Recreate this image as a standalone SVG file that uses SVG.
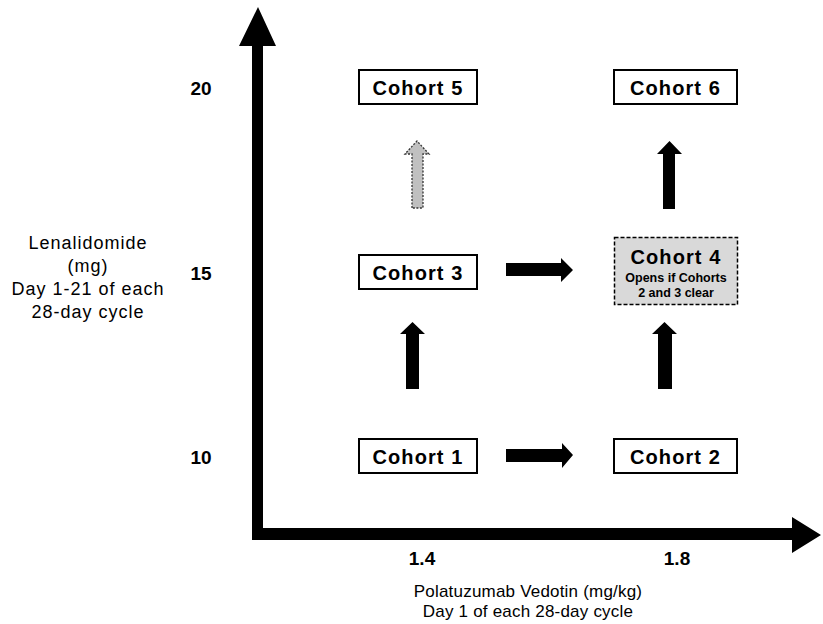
<svg xmlns="http://www.w3.org/2000/svg" width="823" height="624" viewBox="0 0 823 624">
<style>
text{font-family:"Liberation Sans",Arial,sans-serif;fill:#000}
.box{fill:#fff;stroke:#000;stroke-width:2}
.lbl{font-size:20px;font-weight:bold;text-anchor:middle;letter-spacing:1.1px}
.tick{font-size:19px;font-weight:bold;text-anchor:middle}
.title{font-size:17px;text-anchor:middle;letter-spacing:0.2px}
.ytitle{font-size:18px;text-anchor:middle;letter-spacing:1px}
.sub{font-size:12.5px;font-weight:bold;text-anchor:middle}
.arr{fill:#000}
</style>
<rect width="823" height="624" fill="#fff"/>
<g id="axes">
<polygon class="arr" points="252,46 239,46 258,7 276,46 263,46 263,528 792,528 792,517 821,535 792,553 792,540 252,540"/>
</g>
<g id="connectors">
<polygon class="arr" points="506,263 561,263 561,258 573,270 561,282 561,276 506,276"/>
<polygon class="arr" points="506,449 562,449 562,443 573,455 562,468 562,462 506,462"/>
<polygon class="arr" points="406,389 406,334 400,334 412.5,322 425,334 419,334 419,389"/>
<polygon class="arr" points="658,389 658,334 652,334 664.5,322 677,334 672,334 672,389"/>
<polygon class="arr" points="663,209 663,154 657,154 669.5,141 682,154 675,154 675,209"/>
<polygon points="412,208 412,154 405,154 417,141 429,154 423,154 423,208" fill="#c0c0c0" stroke="#333" stroke-width="1.3" stroke-dasharray="2,1.5"/>
</g>
<g id="cohort5"><rect class="box" x="359" y="70" width="118" height="34"/><text class="lbl" x="418" y="95">Cohort 5</text></g>
<g id="cohort6"><rect class="box" x="614" y="70" width="123" height="34"/><text class="lbl" x="675.5" y="95">Cohort 6</text></g>
<g id="cohort3"><rect class="box" x="359" y="255" width="118" height="34"/><text class="lbl" x="418" y="280">Cohort 3</text></g>
<g id="cohort4"><rect x="614.5" y="237.5" width="123" height="67" fill="#d9d9d9" stroke="#000" stroke-width="1.5" stroke-dasharray="4,2"/><text class="lbl" x="676" y="264">Cohort 4</text><text class="sub" x="676" y="282">Opens if Cohorts</text><text class="sub" x="676" y="297">2 and 3 clear</text></g>
<g id="cohort1"><rect class="box" x="359" y="439" width="118" height="34"/><text class="lbl" x="418" y="464">Cohort 1</text></g>
<g id="cohort2"><rect class="box" x="614" y="439" width="123" height="34"/><text class="lbl" x="675.5" y="464">Cohort 2</text></g>
<g id="labels">
<text class="tick" x="201" y="95">20</text>
<text class="tick" x="201" y="280">15</text>
<text class="tick" x="201" y="464">10</text>
<text class="tick" x="422" y="565">1.4</text>
<text class="tick" x="677" y="565">1.8</text>
<text class="title" x="528" y="597">Polatuzumab Vedotin (mg/kg)</text>
<text class="title" x="528" y="617">Day 1 of each 28-day cycle</text>
<text class="ytitle" x="88" y="249">Lenalidomide</text>
<text class="ytitle" x="88" y="272">(mg)</text>
<text class="ytitle" x="88" y="295">Day 1-21 of each</text>
<text class="ytitle" x="88" y="318">28-day cycle</text>
</g>
</svg>
